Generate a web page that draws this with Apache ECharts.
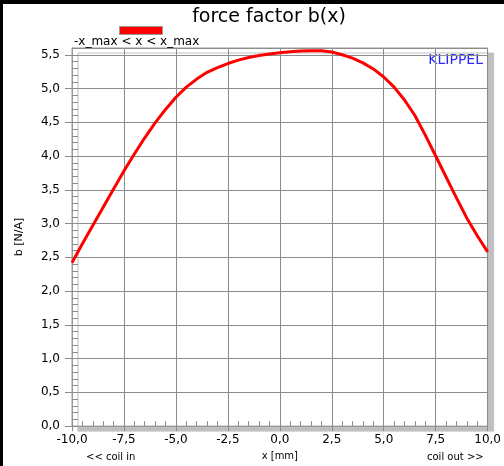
<!DOCTYPE html>
<html>
<head>
<meta charset="utf-8">
<script src="https://cdn.jsdelivr.net/npm/echarts@6/dist/echarts.min.js"></script>
<style>
  html, body { margin: 0; padding: 0; background: #fff; }
  #chart { position: absolute; left: 0; top: 0; width: 504px; height: 466px; }
  #frame { position: absolute; left: 0; top: 0; width: 504px; height: 466px; box-sizing: border-box;
           border-top: 4px solid #000; border-left: 3px solid #000; pointer-events: none; }
</style>
</head>
<body>
<div id="chart"></div>
<div id="frame"></div>
<script>
// ---- data ----
const titleText = 'force factor b(x)';
const seriesName = '-x_max < x < x_max';
const xPositions = [-10, -9.5, -9, -8.5, -8, -7.5, -7, -6.5, -6, -5.5, -5, -4.5, -4, -3.5, -3, -2.5, -2, -1.5, -1, -0.5,
                    0, 0.5, 1, 1.5, 2, 2.5, 3, 3.5, 4, 4.5, 5, 5.5, 6, 6.5, 7, 7.5, 8, 8.5, 9, 9.5, 10];
const bValues = [2.42, 2.70, 2.97, 3.24, 3.51, 3.78, 4.03, 4.27, 4.49, 4.69, 4.87, 5.02, 5.14, 5.24, 5.31, 5.37, 5.42, 5.46, 5.49, 5.51,
                 5.53, 5.545, 5.555, 5.56, 5.56, 5.54, 5.50, 5.45, 5.38, 5.29, 5.17, 5.02, 4.83, 4.60, 4.31, 4.00, 3.69, 3.38, 3.08, 2.82, 2.58];
const xTickLabels = ['-10,0', '-7,5', '-5,0', '-2,5', '0,0', '2,5', '5,0', '7,5', '10,0'];
const yTickLabels = ['0,0', '0,5', '1,0', '1,5', '2,0', '2,5', '3,0', '3,5', '4,0', '4,5', '5,0', '5,5'];
const xAxisName = 'x [mm]';
const yAxisName = 'b [N/A]';
const leftNote = '<< coil in';
const rightNote = 'coil out >>';
const brand = 'KLIPPEL';

const FONT = 'DejaVu Sans';
const xMin = -10, xMax = 10, xStep = 2.5;
const yMin = 0, yMax = 5.6, yStep = 0.5;

const chart = echarts.init(document.getElementById('chart'), null, { renderer: 'canvas' });

function xLabel(v) {
  const i = Math.round((v - xMin) / xStep);
  return Math.abs(xMin + i * xStep - v) < 1e-6 ? (xTickLabels[i] || '') : '';
}
function yLabel(v) {
  const i = Math.round((v - yMin) / yStep);
  return Math.abs(yMin + i * yStep - v) < 1e-6 ? (yTickLabels[i] || '') : '';
}

const gridColor = '#8c8c8c';

const option = {
  animation: false,
  backgroundColor: '#fff',
  title: {
    text: titleText,
    left: 264,
    textAlign: 'center',
    top: 3,
    textStyle: { fontFamily: FONT, fontSize: 19, fontWeight: 'normal', color: '#000' }
  },
  grid: {
    left: 72, right: 14, top: 48, bottom: 38,
    show: true,
    backgroundColor: '#fff',
    borderColor: '#999',
    borderWidth: 1,
    shadowColor: '#c0c0c0',
    shadowBlur: 0,
    shadowOffsetX: 6,
    shadowOffsetY: 5
  },
  xAxis: [
    {
      type: 'value', min: xMin, max: xMax, interval: xStep,
      axisLine: { show: true, onZero: false, lineStyle: { color: '#999' } },
      axisTick: { show: true, length: 5, lineStyle: { color: gridColor } },
      axisLabel: { formatter: xLabel, color: '#000', fontFamily: FONT, fontSize: 12, margin: 8 },
      splitLine: { show: true, lineStyle: { color: gridColor, width: 1 } },
      name: xAxisName, nameLocation: 'middle', nameGap: 24,
      nameTextStyle: { fontFamily: FONT, fontSize: 10, color: '#000' }
    },
    {
      type: 'value', min: xMin, max: xMax, interval: 0.5, position: 'bottom', offset: 0,
      axisLine: { show: false, onZero: false },
      axisTick: { show: true, inside: true, length: 5, lineStyle: { color: gridColor } },
      axisLabel: { show: false },
      splitLine: { show: false }
    }
  ],
  yAxis: [
    {
      type: 'value', min: yMin, max: yMax, interval: yStep,
      axisLine: { show: true, onZero: false, lineStyle: { color: '#999' } },
      axisTick: { show: true, length: 7, lineStyle: { color: gridColor } },
      axisLabel: { formatter: yLabel, showMaxLabel: false, color: '#000', fontFamily: FONT, fontSize: 12, margin: 12 },
      splitLine: { show: true, lineStyle: { color: gridColor, width: 1 } },
      name: yAxisName, nameLocation: 'middle', nameRotate: 90, nameGap: 47,
      nameTextStyle: { fontFamily: FONT, fontSize: 11, color: '#000' }
    },
    {
      type: 'value', min: yMin, max: yMax, interval: 0.1, position: 'left', offset: 0,
      axisLine: { show: false, onZero: false },
      axisTick: { show: true, inside: true, length: 6, lineStyle: { color: gridColor } },
      axisLabel: { show: false },
      splitLine: { show: false }
    }
  ],
  series: [
    {
      name: seriesName,
      type: 'line',
      xAxisIndex: 0, yAxisIndex: 0,
      data: xPositions.map((x, i) => [x, bValues[i]]),
      showSymbol: false,
      smooth: false,
      lineStyle: { color: '#ff0000', width: 3, join: 'round' },
      itemStyle: { color: '#ff0000' },
      z: 5
    }
  ],
  graphic: [
    { type: 'rect', left: 119, top: 26, shape: { width: 43, height: 8 },
      style: { fill: '#ff0000', stroke: '#999', lineWidth: 1 } },
    { type: 'text', left: 74, top: 36,
      style: { text: seriesName, font: '12px "DejaVu Sans"', fill: '#000' } },
    { type: 'text', right: 21, top: 53,
      style: { text: brand, font: '14px "DejaVu Sans"', fill: '#2a2aff' } },
    { type: 'text', left: 86, top: 452,
      style: { text: leftNote, font: '10px "DejaVu Sans"', fill: '#000' } },
    { type: 'text', left: 427, top: 452,
      style: { text: rightNote, font: '10px "DejaVu Sans"', fill: '#000' } }
  ]
};
chart.setOption(option);
</script>
</body>
</html>
